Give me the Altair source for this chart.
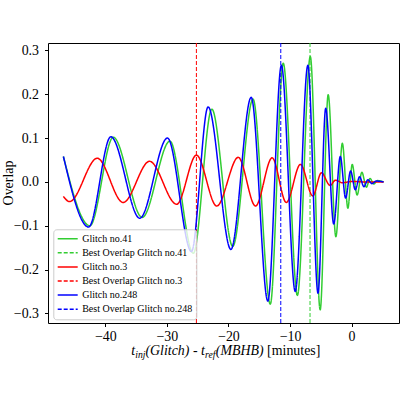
import altair as alt
import pandas as pd

# Turning points of each overlap curve (time in minutes, overlap value)
g41_t = [-46.8, -42.5, -38.7, -34.0, -29.5, -25.7, -22.7, -19.3, -16.0, -13.2,
         -11.1, -8.8, -6.7, -5.1, -3.8, -2.55, -1.5, -0.6, 0.1, 0.9, 1.67, 2.4,
         3.0, 3.6, 4.2, 5.2]
g41_overlap = [0.058, -0.100, 0.102, -0.081, 0.093, -0.163, 0.166, -0.147, 0.189,
               -0.279, 0.271, -0.259, 0.286, -0.292, 0.199, -0.125, 0.088, -0.060,
               0.040, -0.030, 0.022, -0.012, 0.008, -0.005, 0.003, 0.0]

g3_t = [-46.8, -45.8, -41.3, -37.1, -32.8, -28.4, -25.2, -21.9, -18.4, -15.6,
        -12.9, -10.6, -8.3, -6.3, -4.9, -3.5, -2.6, -1.5, 0.0, 2.0, 5.2]
g3_overlap = [-0.033, -0.045, 0.054, -0.047, 0.047, -0.051, 0.061, -0.055, 0.056,
              -0.055, 0.055, -0.047, 0.040, -0.032, 0.021, -0.008, 0.004, -0.002,
              0.001, 0.0, 0.0]

g248_t = [-46.8, -42.7, -39.1, -34.4, -29.9, -26.0, -23.3, -19.6, -16.3, -13.6,
          -11.4, -9.15, -7.1, -5.45, -4.2, -2.9, -1.83, -0.97, -0.16, 0.6, 1.3,
          2.0, 2.65, 3.3, 4.0, 5.2]
g248_overlap = [0.058, -0.103, 0.103, -0.083, 0.100, -0.159, 0.171, -0.154, 0.193,
                -0.272, 0.266, -0.250, 0.266, -0.254, 0.168, -0.096, 0.058, -0.037,
                0.025, -0.018, 0.012, -0.011, 0.005, -0.004, 0.002, 0.0]

# Injection times giving the best overlap for each glitch
best_t = [-6.75, -25.2, -11.5]

series_names = ["Glitch no.41", "Best Overlap Glitch no.41",
                "Glitch no.3", "Best Overlap Glitch no.3",
                "Glitch no.248", "Best Overlap Glitch no.248"]
series_colors = ["#32cd32", "#32cd32", "#ff0000", "#ff0000", "#0000ff", "#0000ff"]
series_dashes = [[1, 0], [4, 2], [1, 0], [4, 2], [1, 0], [4, 2]]

x_ticks = [-40, -30, -20, -10, 0]
y_ticks = [-0.3, -0.2, -0.1, 0.0, 0.1, 0.2, 0.3]

curves = {
    "Glitch no.41": pd.DataFrame({"t": g41_t, "overlap": g41_overlap}),
    "Glitch no.3": pd.DataFrame({"t": g3_t, "overlap": g3_overlap}),
    "Glitch no.248": pd.DataFrame({"t": g248_t, "overlap": g248_overlap}),
}
for name, df in curves.items():
    df["series"] = name

best_names = ["Best Overlap Glitch no.41", "Best Overlap Glitch no.3",
              "Best Overlap Glitch no.248"]

SERIF = "'Liberation Serif', 'Times New Roman', Times, serif"

legend = alt.Legend(
    title=None, orient="none", legendX=5.3, legendY=186.3,
    symbolType="stroke", symbolSize=400, symbolStrokeWidth=1.5,
    clipHeight=12, rowPadding=2.1, labelOffset=3.5,
    labelFont=SERIF, labelFontSize=10, labelColor="black", labelLimit=0,
    fillColor="rgba(255,255,255,0.8)", strokeColor="#cccccc",
    cornerRadius=3, padding=3.4,
)

x_enc = alt.X("t:Q", scale=alt.Scale(domain=[-49.3, 7.7], nice=False, zero=False),
              axis=alt.Axis(values=x_ticks, format="d", title=None))
y_enc = alt.Y("overlap:Q", scale=alt.Scale(domain=[-0.322, 0.317], nice=False, zero=False),
              axis=alt.Axis(values=y_ticks, format=".1f", title=None))
color_enc = alt.Color("series:N", scale=alt.Scale(domain=series_names, range=series_colors),
                      legend=legend)
dash_enc = alt.StrokeDash("series:N", scale=alt.Scale(domain=series_names, range=series_dashes),
                          legend=legend)


def curve_layer(name):
    return alt.Chart(curves[name]).mark_line(
        interpolate="monotone", strokeWidth=1.5
    ).encode(x=x_enc, y=y_enc, color=color_enc, strokeDash=dash_enc)


def best_layer(i):
    df = pd.DataFrame({"t": [best_t[i]], "series": [best_names[i]]})
    return alt.Chart(df).mark_rule(strokeWidth=1).encode(
        x=x_enc, color=color_enc, strokeDash=dash_enc)


one_row = pd.DataFrame({"k": [0]})


def label(text, x, y, size=13.9, italic=False, angle=0, align="left", baseline="alphabetic"):
    return alt.Chart(one_row).mark_text(
        text=text, font=SERIF, fontSize=size, fontStyle="italic" if italic else "normal",
        color="black", align=align, baseline=baseline, angle=angle,
    ).encode(x=alt.value(x), y=alt.value(y))


# x-axis title: t_inj(Glitch) - t_ref(MBHB) [minutes]
base_y = 311.7
sub_y = 314.6
x_title = [
    label("t", 83.3, base_y, italic=True),
    label("inj", 87.2, sub_y, size=9.7, italic=True),
    label("(Glitch)", 97.4, base_y, italic=True),
    label("-", 145.1, base_y),
    label("t", 153.1, base_y, italic=True),
    label("ref", 157.0, sub_y, size=9.7, italic=True),
    label("(MBHB)", 167.8, base_y, italic=True),
    label("[minutes]", 219.1, base_y),
]
y_title = label("Overlap", -39, 140, angle=270, align="center", baseline="middle")

layers = []
for i, name in enumerate(["Glitch no.41", "Glitch no.3", "Glitch no.248"]):
    layers.append(curve_layer(name))
    layers.append(best_layer(i))

chart = alt.layer(*layers, *x_title, y_title).properties(
    width=351, height=280,
    autosize=alt.AutoSizeParams(type="none"),
    padding={"left": 48, "top": 43, "right": 1, "bottom": 77},
).configure_view(
    stroke="black", strokeWidth=1
).configure_axis(
    labelFont=SERIF, labelFontSize=13.9, labelColor="black",
    tickColor="black", tickWidth=1, tickSize=3.5,
    domain=False, grid=False,
).configure_axisX(labelPadding=3).configure_axisY(labelPadding=6)

chart.save("out.html", embed_options={"renderer": "svg", "actions": False})
